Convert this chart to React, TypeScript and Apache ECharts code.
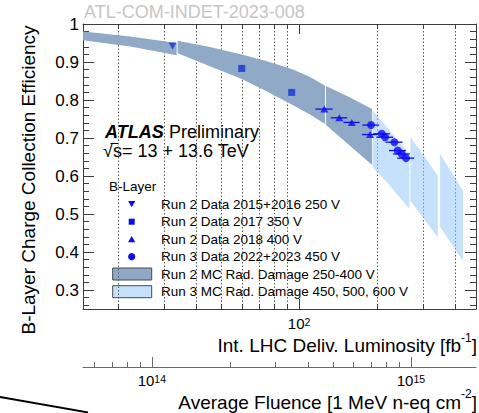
import { useEffect, useRef } from 'react';
import * as echarts from 'echarts';

const FONT = '"Liberation Sans", Arial, Helvetica, sans-serif';

// ---- axis ranges ----
const LUMI_MIN = 14.66; // fb^-1
const LUMI_MAX = 482;
const EFF_MIN = 0.25;
const EFF_MAX = 1.0;
const FLUENCE_PER_FB = 3.7e12; // 1 MeV n-eq cm^-2 per fb^-1 in the B-Layer

const LUMI_MAJOR_TICKS = [100];
const LUMI_MINOR_TICKS = [20, 30, 40, 50, 60, 70, 80, 90, 200, 300, 400];
const FLUENCE_MAJOR_TICKS = [1e14, 1e15];
const FLUENCE_MINOR_TICKS = [6e13, 7e13, 8e13, 9e13, 2e14, 3e14, 4e14, 5e14, 6e14, 7e14, 8e14, 9e14];

// ---- measured points: [integrated luminosity fb^-1, charge collection efficiency] ----
const RUN2_2016: [number, number][] = [[32.5, 0.942]];
const RUN2_2017: [number, number][] = [[60.1, 0.883], [93.7, 0.82]];
const RUN2_2018: [number, number][] = [[125.2, 0.776], [143.0, 0.753], [159.8, 0.741], [188.0, 0.709]];
const RUN3_2022_2023: [number, number][] = [
  [189.7, 0.734], [208.6, 0.711], [214.8, 0.702], [233.4, 0.689], [240.5, 0.667], [249.2, 0.658], [258.9, 0.647],
];
// luminosity uncertainty (fb^-1)
const RUN2_2018_LUMI_ERR = [9.5, 10.5, 11.5, 13];
const RUN3_2022_2023_LUMI_ERR = [14, 15.5, 16, 17.5, 18, 18.5, 19.5];

// ---- simulation bands: each segment is a list of [lumi, eff upper, eff lower] ----
const RUN2_MC_BAND: [number, number, number][][] = [
  [[14.66, 0.98, 0.957], [22.3, 0.967, 0.941], [33.7, 0.95, 0.918]],
  [[34.0, 0.956, 0.923], [45.3, 0.9395, 0.889], [60.1, 0.9197, 0.855], [74.6, 0.9026, 0.8237],
    [93.7, 0.8816, 0.7882], [110.3, 0.8605, 0.7618], [126.0, 0.8376, 0.7368]],
  [[127.1, 0.8368, 0.7342], [156.0, 0.8079, 0.6816], [191.4, 0.7763, 0.6289]],
];
const RUN3_MC_BAND: [number, number, number][][] = [
  [[192.6, 0.7718, 0.6237], [226.5, 0.716, 0.571], [266.6, 0.6553, 0.5132]],
  [[269.0, 0.7018, 0.535], [303.8, 0.6526, 0.4868], [343.2, 0.6008, 0.4387]],
  [[350.3, 0.6579, 0.4658], [386.3, 0.6118, 0.4237], [429.0, 0.5613, 0.3771]],
];

const SERIES_NAMES = [
  'Run 2 Data 2015+2016 250 V',
  'Run 2 Data 2017 350 V',
  'Run 2 Data 2018 400 V',
  'Run 3 Data 2022+2023 450 V',
  'Run 2 MC Rad. Damage 250-400 V',
  'Run 3 MC Rad. Damage 450, 500, 600 V',
];
const LEGEND_HEADER = 'B-Layer';

const AXIS_COLOR = '#3c3c3c';
const MARKER_BLUE = '#0a0af5';
const MARKER_BLUE_DARK = '#1533d6';
const RUN2_BAND_COLOR = '#8fa9c7';
const RUN3_BAND_COLOR = 'rgba(150, 200, 250, 0.55)';
const RUN3_BAND_LEGEND = '#c5e1fb';

function bandRenderer(band: [number, number, number][][], fill: string) {
  return (params: any, api: any) => {
    const seg = band[params.dataIndex];
    const upper = seg.map((r) => api.coord([r[0], r[1]]));
    const lower = seg.slice().reverse().map((r) => api.coord([r[0], r[2]]));
    return {
      type: 'polygon',
      shape: { points: upper.concat(lower) },
      style: { fill },
    };
  };
}

// ticks (and dotted grid on minor ticks) drawn at the luminosity axis values
function lumiTickRenderer(params: any, api: any) {
  const x = Math.round(api.coord([api.value(0), EFF_MIN])[0]) + 0.5;
  const major = api.value(2) === 1;
  const cs = params.coordSys;
  const top = cs.y;
  const bottom = cs.y + cs.height;
  const len = major ? 10 : 5;
  const children: any[] = [];
  if (!major) {
    children.push({
      type: 'line',
      shape: { x1: x, y1: top, x2: x, y2: bottom },
      style: { stroke: '#5a5a5a', lineWidth: 1, lineDash: [1.5, 2] },
    });
  }
  children.push(
    { type: 'line', shape: { x1: x, y1: bottom, x2: x, y2: bottom - len }, style: { stroke: AXIS_COLOR, lineWidth: 1 } },
    { type: 'line', shape: { x1: x, y1: top, x2: x, y2: top + len }, style: { stroke: AXIS_COLOR, lineWidth: 1 } },
  );
  return { type: 'group', children };
}

function fluenceTickRenderer(params: any, api: any) {
  const x = Math.round(api.coord([api.value(0), 0])[0]) + 0.5;
  const major = api.value(2) === 1;
  const cs = params.coordSys;
  const bottom = cs.y + cs.height;
  const len = major ? 10 : 5;
  return {
    type: 'line',
    shape: { x1: x, y1: bottom, x2: x, y2: bottom - len },
    style: { stroke: '#6a6a6a', lineWidth: 1 },
  };
}

function errorBarRenderer(params: any, api: any) {
  const l = api.value(0);
  const e = api.value(1);
  const err = api.value(2);
  const p1 = api.coord([l - err, e]);
  const p2 = api.coord([l + err, e]);
  return {
    type: 'line',
    shape: { x1: p1[0], y1: p1[1], x2: p2[0], y2: p2[1] },
    style: { stroke: MARKER_BLUE, lineWidth: 1.3 },
  };
}

const powerRich = {
  b: { fontSize: 15, fontFamily: FONT, color: '#000', lineHeight: 15, verticalAlign: 'bottom' },
  s: { fontSize: 10.5, fontFamily: FONT, color: '#000', lineHeight: 11, verticalAlign: 'top', padding: [0, 0, 8, 0] },
};

function powerLabel(exponents: number[]) {
  return (v: number) => {
    const lg = Math.log10(v);
    const hit = exponents.find((e) => Math.abs(lg - e) < 1e-6);
    return hit === undefined ? '' : `{b|10}{s|${hit}}`;
  };
}

// axis title with a unit exponent: "<main>" + superscript + "]"
function unitTitle(main: string, exponent: string, rightX: number, y: number) {
  const base = { fontSize: 19, lineHeight: 19, fontFamily: FONT, fill: '#000', verticalAlign: 'middle' };
  const bracketW = 0.278 * 19;
  const supW = (0.333 + 0.556) * 12;
  return [
    { type: 'text', x: rightX, y, style: { ...base, text: ']', align: 'right' } },
    {
      type: 'text', x: rightX - bracketW, y: y - 8,
      style: { text: exponent, fontSize: 12, lineHeight: 12, fontFamily: FONT, fill: '#000', align: 'right', verticalAlign: 'middle' },
    },
    { type: 'text', x: rightX - bracketW - supW, y, style: { ...base, text: main, align: 'right' } },
  ];
}

const LEGEND_ROWS_Y = [204, 221.7, 239.3, 256.7, 274, 291.7];
const LEGEND_MARK_X = 131.7;
const LEGEND_TEXT_X = 161;

function legendGraphics() {
  const els: any[] = [];
  els.push({
    type: 'text', x: 109, y: 186.7,
    style: { text: LEGEND_HEADER, fontSize: 13.5, fontFamily: FONT, fill: '#000', verticalAlign: 'middle' },
  });
  const [y0, y1, y2, y3, y4, y5] = LEGEND_ROWS_Y;
  const cx = LEGEND_MARK_X;
  els.push({
    type: 'polygon',
    shape: { points: [[cx - 3.6, y0 - 3], [cx + 3.6, y0 - 3], [cx, y0 + 3.3]] },
    style: { fill: MARKER_BLUE },
  });
  els.push({ type: 'rect', shape: { x: cx - 3, y: y1 - 3, width: 6, height: 6 }, style: { fill: MARKER_BLUE } });
  els.push({
    type: 'polygon',
    shape: { points: [[cx - 3.6, y2 + 3], [cx + 3.6, y2 + 3], [cx, y2 - 3.3]] },
    style: { fill: MARKER_BLUE },
  });
  els.push({ type: 'circle', shape: { cx, cy: y3, r: 3.6 }, style: { fill: MARKER_BLUE } });
  els.push({
    type: 'rect', shape: { x: 112.7, y: y4 - 6, width: 39, height: 12 },
    style: { fill: RUN2_BAND_COLOR, stroke: '#4a4a4a', lineWidth: 1 },
  });
  els.push({
    type: 'rect', shape: { x: 112.7, y: y5 - 6, width: 39, height: 12 },
    style: { fill: RUN3_BAND_LEGEND, stroke: '#4a4a4a', lineWidth: 1 },
  });
  SERIES_NAMES.forEach((name, i) => {
    els.push({
      type: 'text', x: LEGEND_TEXT_X, y: LEGEND_ROWS_Y[i],
      style: { text: name, fontSize: 13.5, fontFamily: FONT, fill: '#000', verticalAlign: 'middle' },
    });
  });
  return els;
}

function buildOption(): any {
  const lumiTicks = [
    ...LUMI_MINOR_TICKS.map((v) => [v, EFF_MIN, 0]),
    ...LUMI_MAJOR_TICKS.map((v) => [v, EFF_MIN, 1]),
  ];
  const fluenceTicks = [
    ...FLUENCE_MINOR_TICKS.map((v) => [v, 0, 0]),
    ...FLUENCE_MAJOR_TICKS.map((v) => [v, 0, 1]),
  ];
  const yAxisCommon = {
    type: 'value',
    gridIndex: 0,
    min: EFF_MIN,
    max: EFF_MAX,
    splitNumber: 7,
    axisLine: { show: true, lineStyle: { color: AXIS_COLOR, width: 1 } },
    axisTick: { show: true, inside: true, length: 11, lineStyle: { color: AXIS_COLOR } },
    minorTick: { show: true, splitNumber: 5, length: 6, lineStyle: { color: AXIS_COLOR } },
    splitLine: { show: false },
  };
  return {
    animation: false,
    backgroundColor: '#ffffff',
    textStyle: { fontFamily: FONT },
    grid: [
      { left: 83, right: 3, top: 24, height: 285 },
      { left: 83, right: 3, top: 366, height: 1 },
    ],
    xAxis: [
      {
        type: 'log', logBase: 10, gridIndex: 0, position: 'bottom',
        min: LUMI_MIN, max: LUMI_MAX,
        axisLine: { show: true, lineStyle: { color: AXIS_COLOR, width: 1 } },
        axisTick: { show: false }, minorTick: { show: false }, splitLine: { show: false },
        axisLabel: {
          formatter: powerLabel([2]), rich: powerRich, margin: 7,
          showMinLabel: false, showMaxLabel: false,
        },
      },
      {
        type: 'log', logBase: 10, gridIndex: 0, position: 'top',
        min: LUMI_MIN, max: LUMI_MAX,
        axisLine: { show: true, lineStyle: { color: AXIS_COLOR, width: 1 } },
        axisTick: { show: false }, axisLabel: { show: false }, splitLine: { show: false },
      },
      {
        type: 'log', logBase: 10, gridIndex: 1, position: 'bottom',
        min: LUMI_MIN * FLUENCE_PER_FB, max: LUMI_MAX * FLUENCE_PER_FB,
        axisLine: { show: true, lineStyle: { color: '#6a6a6a', width: 1 } },
        axisTick: { show: false }, splitLine: { show: false },
        axisLabel: {
          formatter: powerLabel([14, 15]), rich: powerRich, margin: 6,
          showMinLabel: false, showMaxLabel: false,
        },
      },
    ],
    yAxis: [
      {
        ...yAxisCommon,
        position: 'left',
        axisLabel: { fontSize: 17, color: '#000', margin: 4, showMinLabel: false, fontFamily: FONT },
      },
      { ...yAxisCommon, position: 'right', axisLabel: { show: false } },
      { type: 'value', gridIndex: 1, min: 0, max: 1, show: false },
    ],
    series: [
      {
        type: 'custom', name: 'lumi ticks', xAxisIndex: 0, yAxisIndex: 0, z: 1, silent: true,
        data: lumiTicks, renderItem: lumiTickRenderer,
      },
      {
        type: 'custom', name: 'fluence ticks', xAxisIndex: 2, yAxisIndex: 2, z: 1, silent: true,
        data: fluenceTicks, renderItem: fluenceTickRenderer,
      },
      {
        type: 'custom', name: SERIES_NAMES[4], xAxisIndex: 0, yAxisIndex: 0, z: 2,
        data: RUN2_MC_BAND.map((seg) => [seg[0][0], seg[0][1]]),
        renderItem: bandRenderer(RUN2_MC_BAND, RUN2_BAND_COLOR),
      },
      {
        type: 'custom', name: SERIES_NAMES[5], xAxisIndex: 0, yAxisIndex: 0, z: 2,
        data: RUN3_MC_BAND.map((seg) => [seg[0][0], seg[0][1]]),
        renderItem: bandRenderer(RUN3_MC_BAND, RUN3_BAND_COLOR),
      },
      {
        type: 'custom', name: 'Run 2 2018 lumi error', xAxisIndex: 0, yAxisIndex: 0, z: 3,
        data: RUN2_2018.map((p, i) => [p[0], p[1], RUN2_2018_LUMI_ERR[i]]),
        renderItem: errorBarRenderer,
      },
      {
        type: 'custom', name: 'Run 3 lumi error', xAxisIndex: 0, yAxisIndex: 0, z: 3,
        data: RUN3_2022_2023.map((p, i) => [p[0], p[1], RUN3_2022_2023_LUMI_ERR[i]]),
        renderItem: errorBarRenderer,
      },
      {
        type: 'scatter', name: SERIES_NAMES[0], xAxisIndex: 0, yAxisIndex: 0, z: 4,
        symbol: 'triangle', symbolRotate: 180, symbolSize: [8, 7],
        itemStyle: { color: MARKER_BLUE_DARK }, data: RUN2_2016,
      },
      {
        type: 'scatter', name: SERIES_NAMES[1], xAxisIndex: 0, yAxisIndex: 0, z: 4,
        symbol: 'rect', symbolSize: 7,
        itemStyle: { color: MARKER_BLUE_DARK }, data: RUN2_2017,
      },
      {
        type: 'scatter', name: SERIES_NAMES[2], xAxisIndex: 0, yAxisIndex: 0, z: 4,
        symbol: 'triangle', symbolSize: [8, 7],
        itemStyle: { color: MARKER_BLUE }, data: RUN2_2018,
      },
      {
        type: 'scatter', name: SERIES_NAMES[3], xAxisIndex: 0, yAxisIndex: 0, z: 4,
        symbol: 'circle', symbolSize: 8,
        itemStyle: { color: MARKER_BLUE }, data: RUN3_2022_2023,
      },
    ],
    graphic: [
      {
        type: 'text', x: 84, y: 12,
        style: { text: 'ATL-COM-INDET-2023-008', fontSize: 18, fontFamily: FONT, fill: '#c6c6c6', verticalAlign: 'middle' },
      },
      {
        type: 'text', x: 105, y: 131.7,
        style: {
          text: '{a|ATLAS} {p|Preliminary}',
          verticalAlign: 'middle',
          rich: {
            a: { fontSize: 18, fontWeight: 'bold', fontStyle: 'italic', fontFamily: FONT, fill: '#000' },
            p: { fontSize: 18, fontFamily: FONT, fill: '#000', padding: [0, 0, 0, 2] },
          },
        },
      },
      {
        type: 'text', x: 103, y: 151,
        style: { text: '\u221As= 13 + 13.6 TeV', fontSize: 18, fontFamily: FONT, fill: '#000', verticalAlign: 'middle' },
      },
      {
        type: 'line', shape: { x1: 110.5, y1: 143.5, x2: 119, y2: 143.5 }, style: { stroke: '#000', lineWidth: 1 },
      },
      ...legendGraphics(),
      {
        type: 'text', x: 28, y: 180, rotation: Math.PI / 2,
        style: {
          text: 'B-Layer Charge Collection Efficiency', fontSize: 19, fontFamily: FONT, fill: '#000',
          align: 'center', verticalAlign: 'middle',
        },
      },
      ...unitTitle('Int. LHC Deliv. Luminosity [fb', '-1', 477, 345.5),
      ...unitTitle('Average Fluence [1 MeV n-eq cm', '-2', 477, 402),
      {
        type: 'line', shape: { x1: 0, y1: 397, x2: 88, y2: 412.5 }, style: { stroke: '#000', lineWidth: 1.8 },
      },
    ],
  };
}

export default function App() {
  const ref = useRef<HTMLDivElement>(null);
  useEffect(() => {
    if (!ref.current) return;
    const chart = echarts.init(ref.current, null, { renderer: 'svg' });
    chart.setOption(buildOption());
    return () => chart.dispose();
  }, []);
  return <div ref={ref} style={{ position: 'absolute', left: 0, top: 0, width: 479, height: 413 }} />;
}
